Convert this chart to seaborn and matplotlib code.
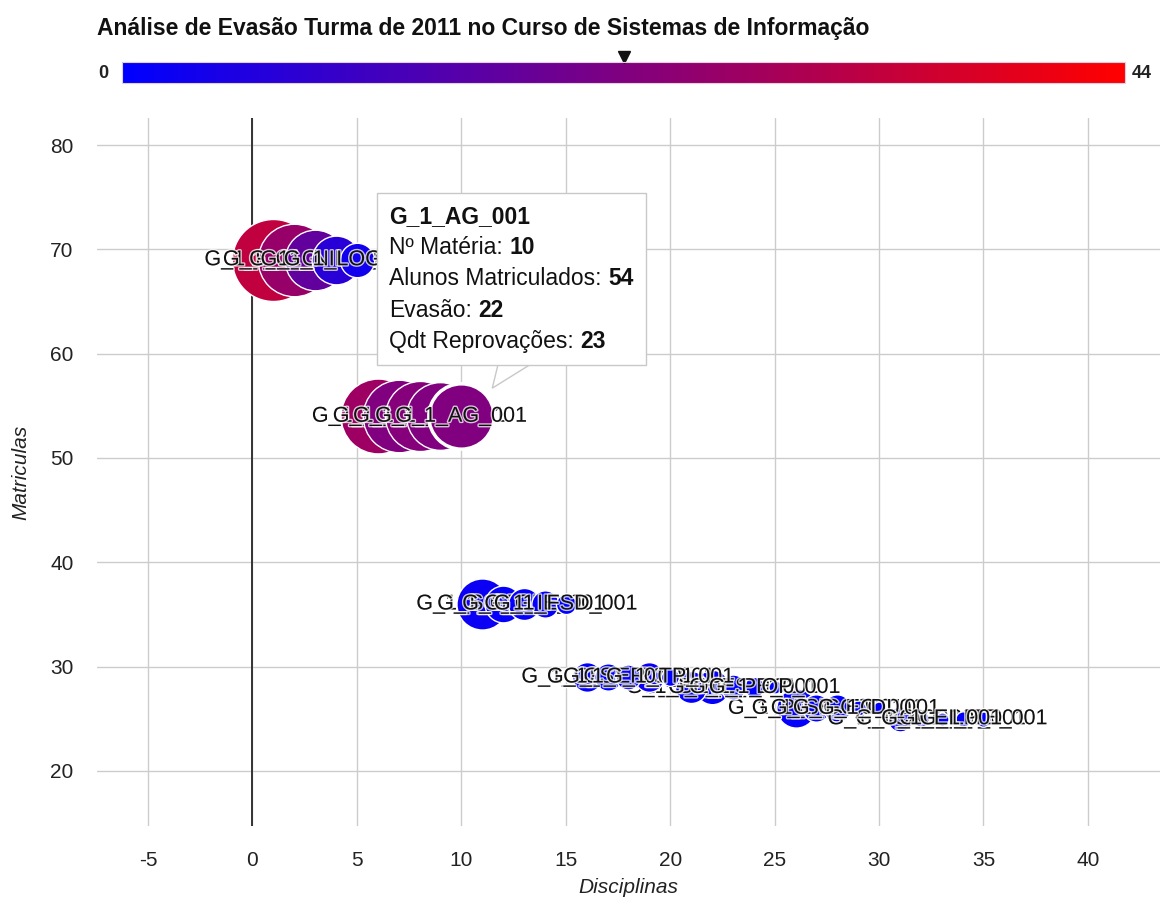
import numpy as np
import pandas as pd
import matplotlib
matplotlib.use("Agg")
import matplotlib as mpl
import matplotlib.pyplot as plt
import seaborn as sns
from matplotlib.colors import LinearSegmentedColormap, Normalize
from matplotlib.offsetbox import TextArea, HPacker, VPacker, AnnotationBbox, DrawingArea
from matplotlib.patches import Polygon
import matplotlib.patheffects as pe

# ---------------- data ----------------
title = "Análise de Evasão Turma de 2011 no Curso de Sistemas de Informação"
materias = [
    "G_1_ICC_001", "G_1_CAL_001", "G_1_GA_001", "G_1_NILO_001", "G_1_LOG_001",
    "G_1_CD_001", "G_1_GE_001", "G_1_CG_001", "G_1_ED_001", "G_1_AG_001",
    "G_1_SO_001", "G_1_GP_001", "G_1_GI_001", "G_1_IE_001", "G_1_FSD_001",
    "G_1_CE_001", "G_1_SI_001", "G_1_ER_001", "G_1_RC_001", "G_1_TP_001",
    "G_1_BD_001", "G_1_IHM_001", "G_1_ES_001", "G_1_PE_001", "G_1_OP_001",
    "G_1_PW_001", "G_1_SE_001", "G_1_GC_001", "G_1_EC_001", "G_1_DI_001",
    "G_1_TCC_001", "G_1_AC_001", "G_1_EI_001", "G_1_LP_001", "G_1_TE_001",
]
disciplinas = list(range(1, 36))
matriculas = [69, 69, 69, 69, 69,
              54, 54, 54, 54, 54,
              36, 36, 36, 36, 36,
              29, 29, 29, 29, 29,
              28, 28, 28, 28, 28,
              26, 26, 26, 26, 26,
              25, 25, 25, 25, 25]
evasao = [33, 26, 17, 7, 3,
          27, 22, 23, 22, 22,
          2, 1, 1, 1, 0,
          1, 0, 1, 2, 0,
          1, 1, 0, 0, 0,
          1, 0, 0, 0, 0,
          1, 0, 0, 0, 0]
reprovacoes = [30, 26, 21, 16, 10,
               27, 26, 25, 24, 23,
               17, 11, 9, 7, 4,
               8, 7, 6, 8, 3,
               9, 10, 6, 4, 1,
               12, 7, 7, 2, 1,
               6, 2, 1, 2, 2]
evasao_range = (0, 44)
x_ticks = list(range(-5, 41, 5))
y_ticks = list(range(20, 81, 10))
hovered = "G_1_AG_001"

df = pd.DataFrame({"materia": materias, "disc": disciplinas, "matr": matriculas,
                   "evasao": evasao, "reprov": reprovacoes})

# ---------------- style ----------------
sns.set_style("white")
plt.rcParams["font.family"] = ["Liberation Sans", "DejaVu Sans"]
plt.rcParams["axes.unicode_minus"] = False

W, H = 1165, 901
fig = plt.figure(figsize=(W / 100, H / 100), dpi=100)
ax = fig.add_axes([97 / W, 1 - 826 / H, (1160 - 97) / W, (826 - 118) / H])

cmap = LinearSegmentedColormap.from_list("bluered", ["#0000ff", "#ff0000"])
norm = Normalize(*evasao_range)

# radius (px) linear in value, converted to marker area in pt^2
vmin, vmax = min(reprovacoes), max(reprovacoes)
rmin_px, rmax_px = 6.5, 41.0
def area(v):
    r = rmin_px + (v - vmin) * (rmax_px - rmin_px) / (vmax - vmin)
    return (2 * r * 0.72) ** 2
size_map = {v: area(v) for v in sorted(set(reprovacoes))}

order = df.sort_values("reprov", ascending=False, kind="mergesort").index.tolist()
hov_idx = df.index[df["materia"] == hovered][0]
order = [i for i in order if i != hov_idx] + [hov_idx]

label_fs = 15.5
for k, i in enumerate(order):
    row = df.loc[[i]]
    is_hov = i == hov_idx
    z = 3 + 2 * k
    sns.scatterplot(data=row, x="disc", y="matr", hue="evasao", size="reprov",
                    hue_norm=norm, palette=cmap, sizes=size_map, legend=False,
                    ax=ax, zorder=z,
                    edgecolor="white" if is_hov else (1, 1, 1, 0.45),
                    linewidth=2.5 if is_hov else 1.0, alpha=1)
    ax.text(row["disc"].iloc[0], row["matr"].iloc[0], row["materia"].iloc[0],
            ha="center", va="center", fontsize=label_fs, color="#111111",
            zorder=z + 1,
            path_effects=[pe.withStroke(linewidth=2.0, foreground=(1, 1, 1, 0.75))])

ax.set_xlim(-7.44, 43.45)
ax.set_ylim(14.72, 82.59)
ax.set_xticks(x_ticks)
ax.set_yticks(y_ticks)
ax.grid(True, color="#cccccc", linewidth=1)
ax.set_axisbelow(True)
ax.axvline(0, color="#333333", linewidth=1.4, zorder=1.5)
for s in ax.spines.values():
    s.set_visible(False)
ax.tick_params(axis="both", length=0, labelsize=15, colors="#222222")
ax.tick_params(axis="y", pad=17)
ax.tick_params(axis="x", pad=18)
ax.set_xlabel("Disciplinas", fontsize=15, style="italic", color="#222222", labelpad=6)
ax.set_ylabel("Matriculas", fontsize=15, style="italic", color="#222222", labelpad=14)

# ---------------- tooltip ----------------
hrow = df.loc[hov_idx]
hx, hy = hrow["disc"], hrow["matr"]

# pointer (drawn in points relative to the hovered bubble)
da = DrawingArea(62, 46, 0, 0)
da.add_artist(Polygon([(22.3, 20.2), (28.1, 44), (60.5, 44)], closed=True,
                      fc="white", ec="#c8c8c8", lw=1))
ab_ptr = AnnotationBbox(da, (hx, hy), xybox=(0, 0), xycoords="data",
                        boxcoords="offset points", box_alignment=(0, 0),
                        frameon=False, pad=0)
ab_ptr.set_zorder(199)
ax.add_artist(ab_ptr)

fs_tt = 16.5
def line(lbl, val):
    return HPacker(children=[TextArea(lbl, textprops=dict(fontsize=fs_tt, color="#111111")),
                             TextArea(str(val), textprops=dict(fontsize=fs_tt, fontweight="bold", color="#111111"))],
                   align="baseline", pad=0, sep=5)
content = VPacker(children=[
    TextArea(hrow["materia"], textprops=dict(fontsize=fs_tt, fontweight="bold", color="#111111")),
    line("Nº Matéria:", hx),
    line("Alunos Matriculados:", hy),
    line("Evasão:", hrow["evasao"]),
    line("Qdt Reprovações:", hrow["reprov"]),
], align="left", pad=0, sep=6)
ab = AnnotationBbox(content, (hx, hy), xybox=(36, 99),
                    xycoords="data", boxcoords="offset points", box_alignment=(0.5, 0.5),
                    frameon=True,
                    bboxprops=dict(boxstyle="square,pad=0.85", fc="white", ec="#c8c8c8", lw=1))
ab.set_zorder(200)
ax.add_artist(ab)

# ---------------- color axis ----------------
cax = fig.add_axes([122 / W, 1 - 83 / H, (1125 - 122) / W, 21 / H])
cb = mpl.colorbar.ColorbarBase(cax, cmap=cmap, norm=norm, orientation="horizontal")
cb.outline.set_edgecolor("#e0d0e0")
cax.set_xticks([])
cax.set_yticks([])
cax.plot([hrow["evasao"]], [1.25], marker="v", color="#111111", markersize=8, clip_on=False)
fig.text(103 / W, 1 - 73 / H, str(evasao_range[0]), ha="center", va="center",
         fontsize=13, fontweight="bold", color="#222222")
fig.text(1142 / W, 1 - 73 / H, str(evasao_range[1]), ha="center", va="center",
         fontsize=13, fontweight="bold", color="#222222")

fig.text(97 / W, 1 - 28 / H, title, ha="left", va="center", fontsize=16.5,
         fontweight="bold", color="#111111")

fig.savefig("out.png", dpi=100)
